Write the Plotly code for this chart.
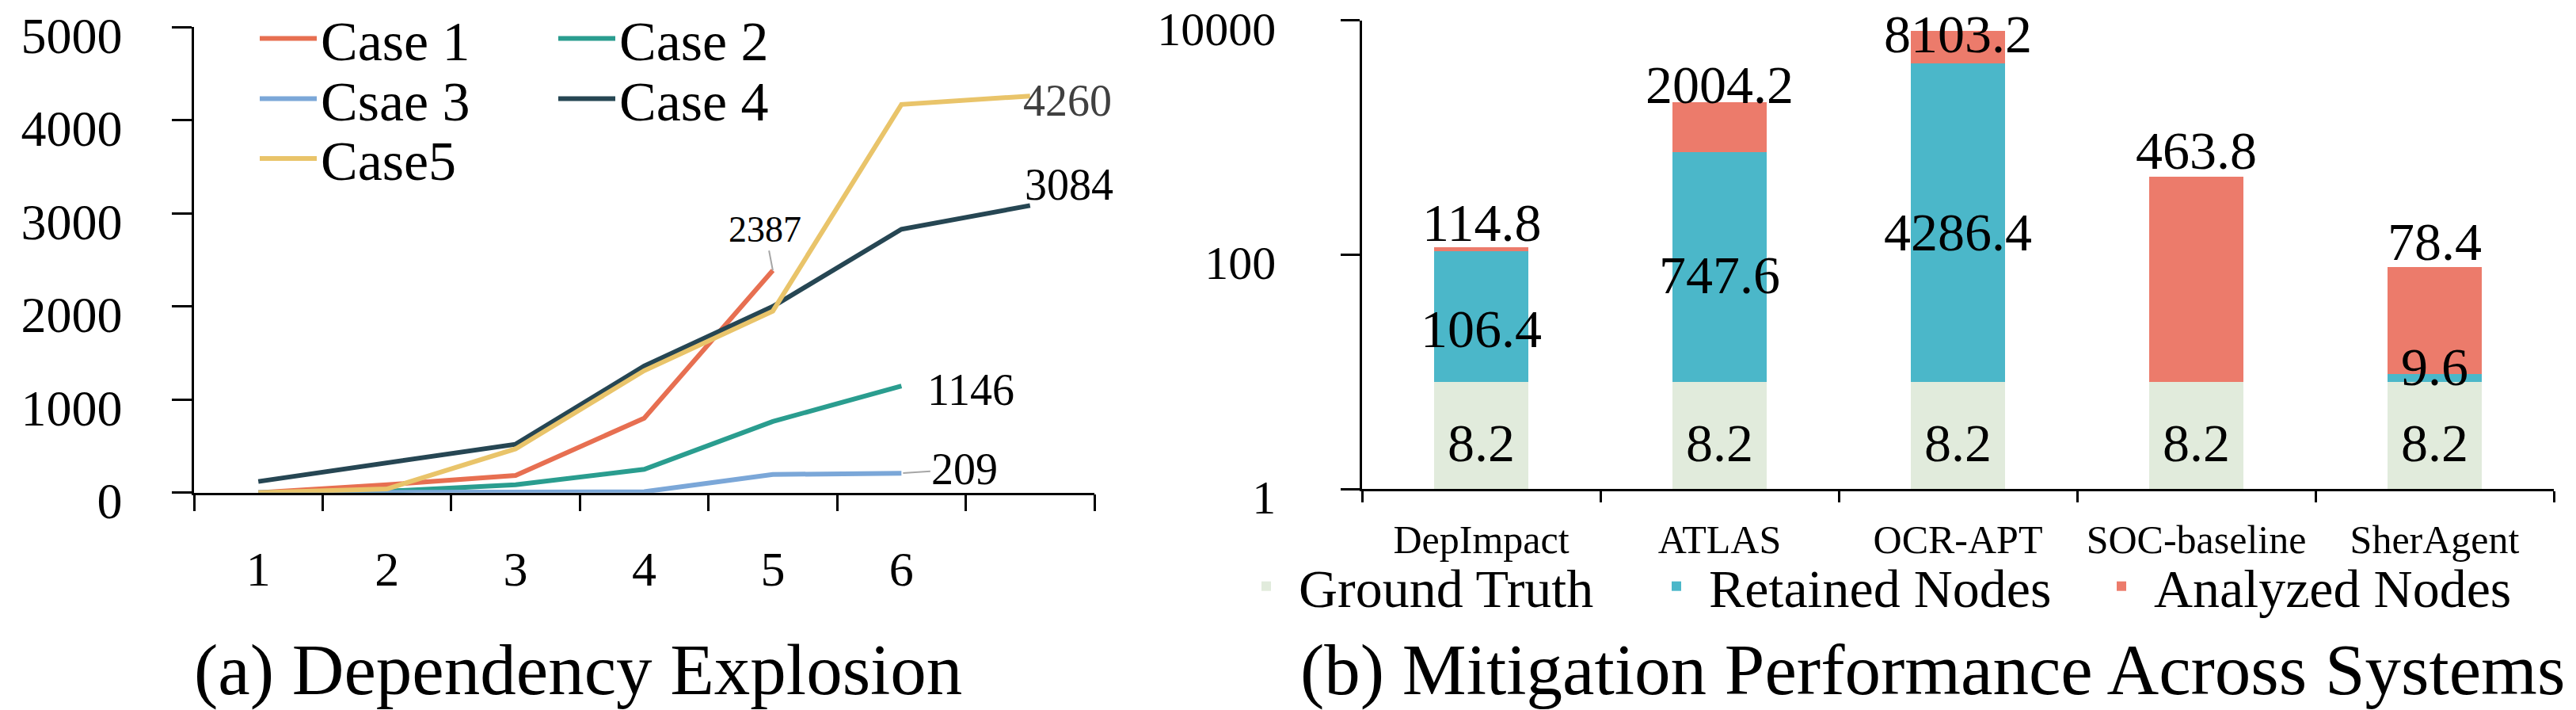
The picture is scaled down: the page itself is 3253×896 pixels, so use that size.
import math
import plotly.graph_objects as go

W, H = 3253, 896
FONT = "Liberation Serif"

# ---------------- Left panel data: (a) Dependency Explosion ----------------
steps = ["1", "2", "3", "4", "5", "6", "7"]
step_labels = ["1", "2", "3", "4", "5", "6", ""]
case1 = [0, 85, 185, 800, 2387]
case2 = [0, 15, 85, 250, 765, 1146]
case3 = [0, 0, 0, 10, 195, 209]
case4 = [120, 320, 520, 1360, 2000, 2830, 3084]
case5 = [0, 40, 470, 1310, 1950, 4170, 4260]
series_names = ["Case 1", "Case 2", "Csae 3", "Case 4", "Case5"]
y_ticks_left = [0, 1000, 2000, 3000, 4000, 5000]

# ---------------- Right panel data: (b) Mitigation Performance ----------------
systems = ["DepImpact", "ATLAS", "OCR-APT", "SOC-baseline", "SherAgent"]
ground_truth = [8.2, 8.2, 8.2, 8.2, 8.2]
retained_total = [106.4, 747.6, 4286.4, None, 9.6]
analyzed_total = [114.8, 2004.2, 8103.2, 463.8, 78.4]
y_ticks_right = [1, 100, 10000]

# ---------------- styles ----------------
line_colors = ["#E76F51", "#2A9D8F", "#7BA7D8", "#264653", "#E9C46A"]
bar_colors = {"gt": "#E1EBDC", "ret": "#4BB7C9", "ana": "#EC7B6B"}
gt_label_shift = -10
ret_label_shift = [-15, -10, -12, None, 14]
top_label_shift = [31, 22, -4, 33, 32]
BAR_LABEL_SIZE = 68


def px_x(p):
    return p / W


def px_y(p):
    return 1 - p / H


fig = go.Figure()

# ----- line traces -----
series = [case1, case2, case3, case4, case5]
legend_ids = ["legend", "legend2", "legend3", "legend4", "legend5"]
for name, vals, col, lg in zip(series_names, series, line_colors, legend_ids):
    fig.add_trace(go.Scatter(
        x=steps[:len(vals)], y=vals, name=name, mode="lines",
        line=dict(color=col, width=6), cliponaxis=False,
        xaxis="x", yaxis="y", legend=lg,
    ))

# ----- stacked bars (cumulative totals -> segments) -----
ret_seg = [(r - g) if r is not None else 0 for r, g in zip(retained_total, ground_truth)]
ret_top = [r if r is not None else g for r, g in zip(retained_total, ground_truth)]
ana_seg = [a - t for a, t in zip(analyzed_total, ret_top)]

fig.add_trace(go.Bar(x=systems, y=ground_truth, name="Ground Truth",
                     marker=dict(color=bar_colors["gt"], line=dict(width=0)),
                     width=0.395, xaxis="x2", yaxis="y2", legend="legend6"))
fig.add_trace(go.Bar(x=systems, y=ret_seg, name="Retained Nodes",
                     marker=dict(color=bar_colors["ret"], line=dict(width=0)),
                     width=0.395, xaxis="x2", yaxis="y2", legend="legend7"))
fig.add_trace(go.Bar(x=systems, y=ana_seg, name="Analyzed Nodes",
                     marker=dict(color=bar_colors["ana"], line=dict(width=0)),
                     width=0.395, xaxis="x2", yaxis="y2", legend="legend8"))

annos = []

# value labels on bars (log axis: annotation y is log10 of value)
for i, g in enumerate(ground_truth):
    annos.append(dict(x=i, y=math.log10(math.sqrt(1 * g)), xref="x2", yref="y2",
                      text=f"{g:g}", showarrow=False, yanchor="middle", yshift=gt_label_shift,
                      font=dict(family=FONT, size=BAR_LABEL_SIZE, color="black")))
for i, (r, g) in enumerate(zip(retained_total, ground_truth)):
    if r is None:
        continue
    annos.append(dict(x=i, y=math.log10(math.sqrt(r * g)), xref="x2", yref="y2",
                      text=f"{r:g}", showarrow=False, yanchor="middle", yshift=ret_label_shift[i],
                      font=dict(family=FONT, size=BAR_LABEL_SIZE, color="black")))
for i, a in enumerate(analyzed_total):
    annos.append(dict(x=i, y=math.log10(a), xref="x2", yref="y2",
                      text=f"{a:g}", showarrow=False, yanchor="middle", yshift=top_label_shift[i],
                      font=dict(family=FONT, size=BAR_LABEL_SIZE, color="black")))


# ----- end-value annotations on the left panel -----
def idx(n):
    return n - 1


left_annos = [
    dict(x=idx(len(case1)), y=case1[-1], text=f"{case1[-1]}", showarrow=True,
         ax=-10, ay=-52, arrowhead=0, arrowwidth=2, arrowcolor="#A6A6A6", standoff=0,
         font=dict(family=FONT, size=46, color="black")),
    dict(x=idx(len(case5)), y=case5[-1], text=f"{case5[-1]}", showarrow=False,
         xshift=47, yshift=-6, font=dict(family=FONT, size=56, color="#404040")),
    dict(x=idx(len(case4)), y=case4[-1], text=f"{case4[-1]}", showarrow=False,
         xshift=49, yshift=26, font=dict(family=FONT, size=56, color="black")),
    dict(x=idx(len(case2)), y=case2[-1], text=f"{case2[-1]}", showarrow=False,
         xshift=88, yshift=-5, font=dict(family=FONT, size=56, color="black")),
    dict(x=idx(len(case3)), y=case3[-1], text=f"{case3[-1]}", showarrow=True,
         ax=80, ay=-5, arrowhead=0, arrowwidth=2, arrowcolor="#A6A6A6", standoff=2,
         font=dict(family=FONT, size=56, color="black")),
]
for a in left_annos:
    a.update(xref="x", yref="y")
annos += left_annos

annos += [
    dict(x=px_x(729.5), y=px_y(845), xref="paper", yref="paper", showarrow=False,
         text="(a) Dependency Explosion", xanchor="center", yanchor="middle",
         font=dict(family=FONT, size=91, color="black")),
    dict(x=px_x(2440), y=px_y(845), xref="paper", yref="paper", showarrow=False,
         text="(b) Mitigation Performance Across Systems", xanchor="center", yanchor="middle",
         font=dict(family=FONT, size=91, color="black")),
]

axis_common = dict(showline=True, linecolor="black", linewidth=2.5, ticks="outside",
                   tickcolor="black", tickwidth=2.5, showgrid=False, zeroline=False,
                   layer="below traces", automargin=False)


def leg(x, y, size=70):
    return dict(x=x, y=y, xanchor="left", yanchor="middle", orientation="h",
                bgcolor="rgba(0,0,0,0)", borderwidth=0, itemwidth=72,
                font=dict(family=FONT, size=size, color="black"))


fig.update_layout(
    width=W, height=H,
    margin=dict(l=0, r=0, t=0, b=0, autoexpand=False),
    paper_bgcolor="white", plot_bgcolor="white",
    font=dict(family=FONT, color="black"),
    barmode="stack",
    xaxis=dict(domain=[px_x(245), px_x(1382)], anchor="y", type="category",
               categoryorder="array", categoryarray=steps,
               tickmode="array", tickvals=steps, ticktext=step_labels,
               tickson="boundaries", ticklen=21, range=[-0.5, 6.5],
               ticklabelstandoff=40,
               tickfont=dict(family=FONT, size=62, color="black"), **axis_common),
    yaxis=dict(domain=[px_y(621.7), px_y(34.3)], anchor="x", range=[0, 5000],
               tickmode="array", tickvals=y_ticks_left, ticklen=25,
               ticklabelstandoff=50, ticklabeloverflow="allow", ticklabelshift=10,
               tickfont=dict(family=FONT, size=64, color="black"), **axis_common),
    xaxis2=dict(domain=[px_x(1720), px_x(3225)], anchor="y2", type="category",
                categoryorder="array", categoryarray=systems,
                tickson="boundaries", ticklen=14, ticklabelstandoff=18,
                tickfont=dict(family=FONT, size=50, color="black"), **axis_common),
    yaxis2=dict(domain=[px_y(617), px_y(25.7)], anchor="x2", type="log", range=[0, 4],
                tickmode="array", tickvals=y_ticks_right,
                ticktext=[f"{v}" for v in y_ticks_right], ticklen=24,
                ticklabelstandoff=70, ticklabeloverflow="allow", ticklabelshift=10,
                tickfont=dict(family=FONT, size=60, color="black"), **axis_common),
    legend=leg(px_x(323), px_y(48.6)),
    legend2=leg(px_x(700), px_y(48.6)),
    legend3=leg(px_x(323), px_y(124.6)),
    legend4=leg(px_x(700), px_y(124.6)),
    legend5=leg(px_x(323), px_y(200)),
    legend6=leg(px_x(1558), px_y(740), 68),
    legend7=leg(px_x(2076), px_y(740), 68),
    legend8=leg(px_x(2638), px_y(740), 68),
    annotations=annos,
    showlegend=True,
)

fig.write_html("out.html")
